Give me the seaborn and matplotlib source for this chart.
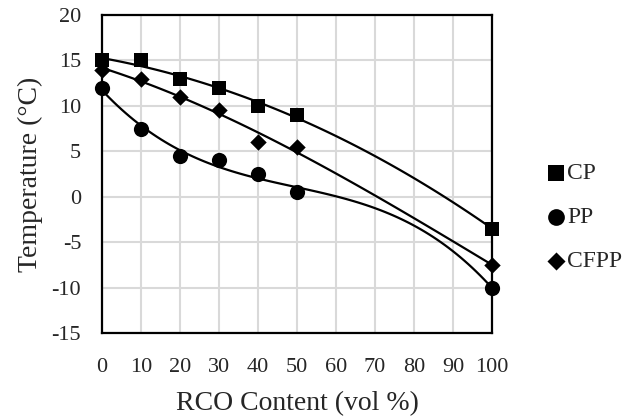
import numpy as np
import pandas as pd
import seaborn as sns
import matplotlib.pyplot as plt

# RCO content (vol %) and measured temperatures (°C)
rco_content = [0, 10, 20, 30, 40, 50, 100]
cp_values = [15, 15, 13, 12, 10, 9, -3.5]
pp_values = [12, 7.5, 4.5, 4, 2.5, 0.5, -10]
cfpp_values = [14, 13, 11, 9.5, 6, 5.5, -7.5]

series_names = ['CP', 'PP', 'CFPP']
x_ticks = list(range(0, 101, 10))
y_ticks = list(range(-15, 21, 5))

df = pd.DataFrame({
    'x': rco_content * 3,
    'y': cp_values + pp_values + cfpp_values,
    'series': np.repeat(series_names, len(rco_content)),
})

sns.set_style('white')
plt.rcParams['font.family'] = ['Liberation Serif', 'DejaVu Serif']
plt.rcParams['axes.unicode_minus'] = False

fig, ax = plt.subplots(figsize=(6.3, 4.18), dpi=100)
fig.subplots_adjust(left=0.162, right=0.781, top=0.964, bottom=0.203)

# polynomial trendlines (Excel style)
for name in series_names:
    sub = df[df['series'] == name]
    sns.regplot(data=sub, x='x', y='y', order=3, ci=None, scatter=False,
                truncate=True, ax=ax, line_kws=dict(color='black', lw=1.6))

markers = {'CP': 's', 'PP': 'o', 'CFPP': 'D'}
sizes = {'CP': 105, 'PP': 120, 'CFPP': 70}
for name in series_names:
    sub = df[df['series'] == name]
    sns.scatterplot(data=sub, x='x', y='y', marker=markers[name], s=sizes[name],
                    color='black', edgecolor='black', linewidth=0, ax=ax,
                    label=name, zorder=5, clip_on=False)

ax.set_xlim(0, 100)
ax.set_ylim(-15, 20)
ax.set_xticks(x_ticks)
ax.set_yticks(y_ticks)
ax.grid(True, color='#d9d9d9', lw=1.5)
ax.set_axisbelow(True)
for sp in ax.spines.values():
    sp.set_color('black')
    sp.set_linewidth(1.6)
ax.tick_params(axis='y', length=0, labelsize=16, pad=15)
ax.tick_params(axis='x', length=0, labelsize=16, pad=18)

ax.set_xlabel('RCO Content (vol %)', fontsize=20, labelpad=10)
ax.set_ylabel('Temperature (°C)', fontsize=20, labelpad=6)

leg = ax.legend(loc='center left', bbox_to_anchor=(0.872, 0.48),
                bbox_transform=fig.transFigure, frameon=False, fontsize=17,
                handlelength=0.6, handletextpad=0.15, labelspacing=0.95,
                borderpad=0, borderaxespad=0, markerscale=1.1)

fig.savefig('out.png', dpi=100)
